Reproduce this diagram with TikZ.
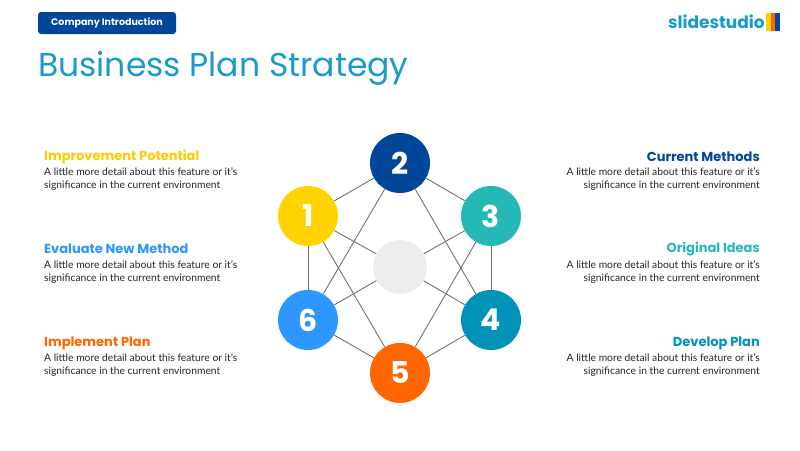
\documentclass[tikz,border=0pt]{standalone}
\usepackage{fontspec}
\setmainfont{Lato}
\newfontfamily\headf{Poppins}
\definecolor{cyel}{HTML}{FFD200}
\definecolor{cnavy}{HTML}{00479A}
\definecolor{cteal}{HTML}{26B8B5}
\definecolor{cpetrol}{HTML}{0093B8}
\definecolor{corange}{HTML}{FF6600}
\definecolor{cblue}{HTML}{2E96FF}
\definecolor{ctitle}{HTML}{1A9AC9}
\begin{document}
\begin{tikzpicture}[x=1pt,y=-1pt,
  num/.style={circle,minimum size=60pt,inner sep=0pt,text=white,font=\headf\bfseries\fontsize{30}{30}\selectfont},
  link/.style={draw=black!55,line width=0.9pt},
  head/.style={font=\headf\bfseries\fontsize{13}{13}\selectfont,inner sep=0pt},
  body/.style={font=\fontsize{10.3}{13}\selectfont,inner sep=0pt,align=left,text=black!85}]
\useasboundingbox (0,0) rectangle (800,450);
\fill[white] (0,0) rectangle (800,450);
\node[fill=cnavy,rounded corners=3pt,text=white,font=\headf\bfseries\fontsize{9.5}{10}\selectfont,minimum width=138pt,minimum height=22pt,inner sep=0pt] (tag) at (107,23) {Company Introduction};
\node[anchor=west,text=ctitle,font=\headf\fontsize{33}{36}\selectfont,inner sep=0pt] (title) at (38,68) {Business Plan Strategy};
\node[anchor=east,text=ctitle,font=\headf\bfseries\fontsize{17}{18}\selectfont,inner sep=0pt] (logo) at (765,22) {slidestudio};
\fill[cyel] (766,13) rectangle (771,31);
\fill[corange] (771,13) rectangle (775,31);
\fill[cnavy] (775,13) rectangle (780,31);
\node[circle,fill=black!7,minimum size=54pt,inner sep=0pt] (c) at (400,267) {};
\node[num,fill=cyel] (n1) at (308,216) {1};
\node[num,fill=cnavy] (n2) at (400,163) {2};
\node[num,fill=cteal] (n3) at (491,216) {3};
\node[num,fill=cpetrol] (n4) at (491,320) {4};
\node[num,fill=corange] (n5) at (400,373) {5};
\node[num,fill=cblue] (n6) at (308,320) {6};
\foreach \a/\b in {n1/n2,n2/n3,n3/n4,n4/n5,n5/n6,n6/n1,n1/c,n3/c,n4/c,n6/c,n2/n6,n2/n4,n1/n5,n3/n5}
  \draw[link] (\a) -- (\b);
\node[head,anchor=west,text=cyel!90!orange] (h1) at (44,157) {Improvement Potential};
\node[body,anchor=north west] (b1) at (44,167) {A little more detail about this feature or it's\\significance in the current environment};
\node[head,anchor=west,text=cblue] (h6) at (44,249) {Evaluate New Method};
\node[body,anchor=north west] (b6) at (44,260) {A little more detail about this feature or it's\\significance in the current environment};
\node[head,anchor=west,text=corange] (h5) at (44,343) {Implement Plan};
\node[body,anchor=north west] (b5) at (44,353) {A little more detail about this feature or it's\\significance in the current environment};
\node[head,anchor=east,text=cnavy] (h2) at (760,157) {Current Methods};
\node[body,anchor=north east,align=right] (b2) at (760,167) {A little more detail about this feature or it's\\significance in the current environment};
\node[head,anchor=east,text=cteal] (h3) at (760,249) {Original Ideas};
\node[body,anchor=north east,align=right] (b3) at (760,260) {A little more detail about this feature or it's\\significance in the current environment};
\node[head,anchor=east,text=cpetrol] (h4) at (760,343) {Develop Plan};
\node[body,anchor=north east,align=right] (b4) at (760,353) {A little more detail about this feature or it's\\significance in the current environment};
\end{tikzpicture}
\end{document}
